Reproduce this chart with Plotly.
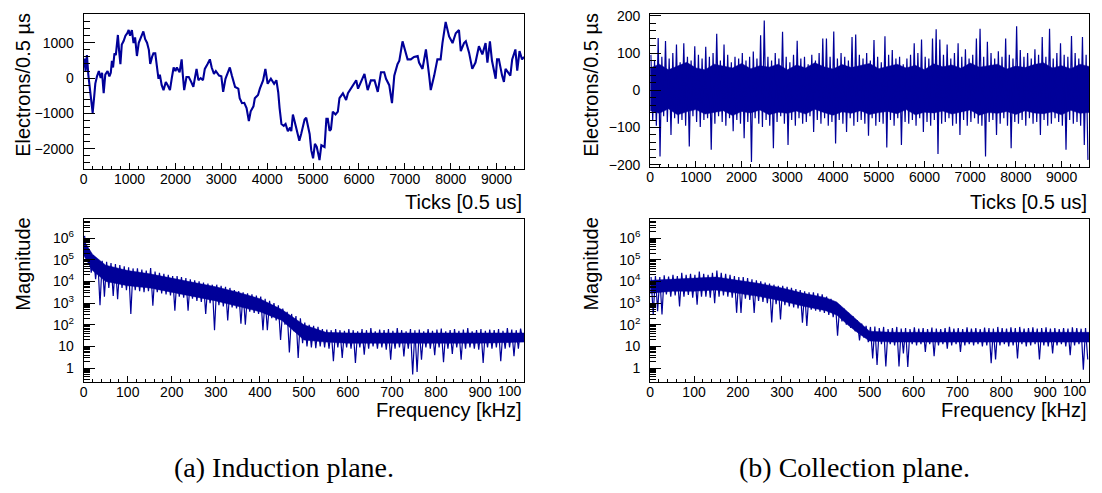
import plotly.graph_objects as go

# ---------------- data ----------------
# (a) induction plane waveform: tick positions and electrons/0.5us
ind_ticks = [0, 20, 40, 70, 100, 150, 195, 230, 253, 290, 330, 370, 400, 435, 470, 520, 560, 590, 615, 640,
             670, 700, 724, 745, 770, 800, 830, 870, 910, 950, 980, 1010, 1050, 1086, 1120, 1160, 1200, 1240, 1300, 1340,
             1380, 1420, 1450, 1490, 1520, 1560, 1590, 1630, 1660, 1700, 1740, 1790, 1830, 1880, 1920, 1960, 2000, 2030, 2090, 2135,
             2160, 2190, 2240, 2290, 2340, 2390, 2430, 2460, 2500, 2550, 2600, 2640, 2700, 2750, 2790, 2840, 2880, 2950, 3000, 3040,
             3090, 3150, 3185, 3230, 3300, 3370, 3400, 3450, 3500, 3550, 3600, 3640, 3700, 3730, 3800, 3840, 3910, 3960, 4010, 4080,
             4150, 4200, 4240, 4270, 4310, 4360, 4400, 4450, 4500, 4525, 4560, 4630, 4700, 4740, 4815, 4850, 4900, 4925, 4960, 5000,
             5040, 5080, 5110, 5140, 5180, 5250, 5290, 5320, 5360, 5390, 5430, 5490, 5540, 5575, 5650, 5720, 5760, 5830, 5880, 5940,
             5980, 6045, 6120, 6190, 6260, 6340, 6410, 6480, 6550, 6590, 6660, 6720, 6770, 6840, 6880, 6950, 6990, 7060, 7130, 7200,
             7280, 7310, 7385, 7460, 7530, 7565, 7640, 7710, 7780, 7820, 7890, 7965, 8040, 8110, 8180, 8220, 8290, 8330, 8400, 8470,
             8540, 8615, 8690, 8760, 8800, 8855, 8900, 8980, 9010, 9050, 9120, 9160, 9195, 9250, 9300, 9340, 9410, 9450, 9500, 9555,
             9600]
ind_vals = [300, 550, 200, 650, 100, -500, -985, -500, -156, 50, 200, 0, 150, -430, 100, 200, 50, 150, 490, 300,
            700, 650, 990, 1220, 800, 395, 950, 1050, 1200, 1270, 1360, 1200, 1360, 990, 1150, 625, 1000, 1150, 1320, 1100,
            1000, 800, 400, 600, 700, 700, 350, -20, 100, -200, -340, -110, -200, -340, 0, 300, 200, 300, 165, 530,
            100, -340, 30, 30, -100, -250, 50, 260, -60, 0, -60, 260, 400, 530, 300, 120, 200, 70, 50, -390,
            -20, 200, 300, 70, -250, -300, -570, -710, -700, -850, -1215, -940, -800, -570, -480, -300, -65, 260, -160, -20,
            -160, -60, -400, -850, -1300, -1350, -1300, -1500, -1400, -1500, -1030, -1400, -1770, -1580, -1170, -1120, -1400, -1580, -2040, -2270,
            -1860, -1950, -2130, -2320, -1900, -1950, -1150, -1150, -1490, -1450, -950, -1030, -950, -570, -430, -620, -430, -300, -200, -60,
            -300, -110, 120, -340, -65, -65, -390, 165, 165, -20, -200, -710, 70, 395, 490, 1040, 855, 530, 530, 600,
            625, 440, 260, 810, 70, -340, 70, 530, 530, 990, 1590, 1180, 990, 1270, 1360, 760, 990, 1040, 720, 260,
            440, 900, 670, 990, 440, 1040, 490, -20, 530, 530, 70, -110, 260, 150, 70, 530, 810, 210, 765, 530,
            600]

# (b) collection plane waveform: per 80-tick bin, highest and lowest sample
coll_bin_width = 80
coll_hi = [95, 80, 140, 90, 132, 85, 100, 123, 75, 126, 90, 80, 118, 95, 85, 117, 90, 100, 152, 80,
           123, 95, 75, 90, 85, 100, 80, 90, 104, 85, 148, 187, 90, 80, 100, 85, 157, 90, 75, 95,
           133, 85, 90, 70, 95, 80, 100, 139, 139, 90, 158, 85, 100, 90, 80, 143, 150, 95, 85, 100,
           80, 135, 90, 75, 145, 95, 108, 85, 90, 70, 85, 95, 126, 100, 136, 90, 85, 139, 164, 136,
           95, 123, 85, 100, 126, 90, 110, 85, 95, 139, 165, 90, 130, 100, 85, 105, 90, 139, 95, 85,
           172, 108, 90, 100, 85, 110, 95, 143, 90, 165, 85, 100, 126, 95, 90, 146, 100, 85, 143, 95]
coll_lo = [-80, -95, -178, -70, -85, -120, -75, -90, -80, -95, -151, -70, -85, -99, -80, -75, -160, -90, -70, -85,
           -95, -75, -110, -80, -90, -129, -85, -193, -75, -90, -99, -80, -95, -156, -85, -70, -90, -147, -80, -95,
           -75, -90, -85, -70, -112, -80, -90, -75, -95, -85, -143, -80, -90, -112, -75, -95, -85, -80, -90, -122,
           -75, -95, -85, -90, -154, -80, -95, -75, -147, -85, -90, -80, -95, -75, -112, -85, -95, -80, -171, -90,
           -85, -75, -95, -90, -120, -80, -95, -85, -75, -90, -95, -178, -85, -80, -120, -90, -75, -95, -156, -85,
           -90, -80, -95, -75, -90, -85, -120, -80, -95, -90, -75, -85, -95, -160, -80, -90, -85, -95, -147, -187]
# dense core of the collection waveform band, every 200 ticks
coll_core_x = list(range(0, 9601, 200))
coll_core_hi = [60, 70, 55, 65, 75, 60, 55, 70, 65, 60, 72, 58, 66, 62, 70, 55, 68, 60, 74, 63, 57, 69, 61, 66, 72,
                58, 64, 70, 60, 67, 55, 71, 63, 68, 59, 73, 62, 66, 70, 57, 65, 61, 69, 74, 60, 66, 58, 70, 64]
coll_core_lo = [-55, -62, -50, -66, -58, -52, -64, -60, -55, -68, -57, -61, -53, -66, -59, -62, -56, -64, -51, -60,
                -67, -58, -62, -55, -65, -60, -57, -63, -52, -66, -59, -61, -56, -64, -58, -53, -67, -60, -62, -57,
                -65, -55, -61, -63, -58, -66, -54, -62, -60]

# spectra: per 10 kHz bin, log10 of highest and lowest magnitude
spec_bin_width = 10
ind_spec_hi = [6.1, 5.4, 5.2, 5.0, 4.95, 4.9, 4.85, 4.8, 4.75, 4.7, 4.65, 4.6, 4.6, 4.55, 4.5, 4.62, 4.45, 4.4, 4.35, 4.3,
               4.25, 4.25, 4.2, 4.15, 4.1, 4.05, 4.0, 3.95, 3.9, 3.85, 3.85, 3.8, 3.75, 3.7, 3.6, 3.55, 3.5, 3.45, 3.4, 3.35,
               3.3, 3.2, 3.1, 3.0, 2.9, 2.75, 2.6, 2.5, 2.4, 2.3, 2.1, 2.0, 1.95, 1.9, 1.8, 1.78, 1.75, 1.8, 1.75, 1.72,
               1.8, 1.75, 1.7, 1.8, 1.75, 1.85, 1.7, 1.78, 1.75, 1.8, 1.72, 1.85, 1.75, 1.7, 1.8, 1.75, 1.78, 1.7, 1.8, 1.72,
               1.78, 1.82, 1.7, 1.75, 1.8, 1.72, 1.78, 1.85, 1.7, 1.75, 1.8, 1.72, 1.78, 1.75, 1.8, 1.72, 1.85, 1.78, 1.75, 1.82]
ind_spec_lo = [5.0, 4.4, 4.1, 2.9, 3.3, 3.7, 3.33, 3.18, 3.7, 3.6, 2.5, 3.6, 3.55, 3.5, 3.55, 2.88, 3.5, 3.45, 3.4, 3.35,
               2.65, 3.3, 3.25, 2.65, 3.2, 3.1, 3.05, 2.5, 3.0, 1.75, 2.9, 2.85, 2.2, 2.8, 2.75, 2.05, 2.0, 2.6, 2.55, 2.5,
               1.75, 1.75, 2.3, 2.2, 1.3, 2.0, 0.72, 1.7, 0.47, 1.15, 1.0, 0.95, 0.92, 1.0, 0.95, 0.9, 0.32, 0.95, 0.47, 0.95,
               0.9, 0.24, 0.95, 0.62, 0.9, 1.0, 0.9, 0.95, 0.85, 0.39, 0.9, 0.95, 0.54, 0.9, -0.29, -0.18, 0.39, 0.95, 0.9, 0.6,
               0.95, 0.27, 0.9, 0.65, 0.95, 0.39, 0.9, 0.95, 0.9, 0.85, 0.24, 0.95, 0.9, 0.95, 0.32, 0.9, 0.95, 0.55, 0.9, 1.3]
coll_spec_hi = [4.2, 4.25, 4.2, 4.28, 4.22, 4.3, 4.25, 4.4, 4.3, 4.35, 4.3, 4.45, 4.35, 4.3, 4.4, 4.5, 4.4, 4.35, 4.3, 4.25,
                4.2, 4.2, 4.15, 4.1, 4.05, 4.0, 3.95, 3.9, 3.85, 3.8, 3.8, 3.75, 3.7, 3.65, 3.6, 3.55, 3.5, 3.5, 3.45, 3.4,
                3.3, 3.2, 3.05, 2.9, 2.75, 2.55, 2.4, 2.2, 2.05, 1.95, 1.9, 1.92, 1.85, 1.9, 1.8, 1.85, 1.9, 1.82, 1.85, 1.8,
                1.88, 1.82, 1.85, 1.8, 1.87, 1.82, 1.8, 1.85, 1.9, 1.82, 1.85, 1.8, 1.88, 1.82, 1.85, 1.8, 1.87, 1.85, 1.82, 1.9,
                1.85, 1.82, 1.88, 1.85, 1.9, 1.82, 1.85, 1.88, 1.82, 1.85, 1.88, 1.82, 1.85, 1.8, 1.85, 1.82, 1.88, 1.85, 1.82, 1.85]
coll_spec_lo = [2.48, 2.63, 2.48, 3.4, 3.3, 3.35, 2.85, 3.3, 3.38, 3.25, 2.93, 3.3, 3.3, 3.25, 3.0, 3.3, 3.35, 3.3, 3.25, 2.55,
                2.55, 3.2, 3.15, 2.55, 3.1, 3.05, 3.0, 2.1, 2.95, 2.25, 2.9, 2.85, 2.8, 2.75, 2.1, 1.95, 2.7, 2.65, 2.6, 2.55,
                2.45, 2.35, 1.5, 2.15, 2.0, 1.85, 1.7, 1.28, 1.4, 1.2, 0.45, 0.15, 1.1, 0.08, 1.1, 1.05, 0.08, 0.68, 0.05, 1.1,
                1.05, 1.1, 0.75, 1.1, 0.55, 1.05, 1.1, 0.9, 1.05, 1.1, 0.75, 1.05, 1.1, 1.05, 1.1, 1.0, 1.05, 0.23, 0.4, 1.05,
                1.1, 1.0, 1.05, 0.45, 1.1, 1.0, 1.05, 1.1, 0.4, 1.05, 1.0, 0.68, 1.05, 1.1, 1.0, 0.6, 1.05, 1.1, -0.08, 0.4]

# dense core of the spectral bands (log10), sampled at these frequencies
ind_core_f = [0, 20, 50, 100, 150, 200, 250, 300, 350, 400, 450, 500, 550, 600, 700, 800, 900, 1000]
ind_core_hi = [5.9, 5.25, 4.75, 4.5, 4.35, 4.15, 3.95, 3.75, 3.5, 3.2, 2.7, 2.0, 1.65, 1.62, 1.62, 1.62, 1.62, 1.62]
ind_core_lo = [5.2, 4.5, 4.0, 3.8, 3.7, 3.5, 3.3, 3.1, 2.85, 2.6, 2.2, 1.3, 1.2, 1.15, 1.15, 1.15, 1.15, 1.2]
coll_core_f = [0, 50, 100, 150, 200, 250, 300, 350, 400, 425, 450, 475, 500, 550, 600, 700, 800, 900, 1000]
coll_core_hi_s = [4.05, 4.1, 4.15, 4.2, 4.05, 3.9, 3.7, 3.45, 3.25, 3.05, 2.6, 2.15, 1.7, 1.65, 1.65, 1.65, 1.65, 1.65, 1.65]
coll_core_lo_s = [3.45, 3.55, 3.55, 3.6, 3.45, 3.3, 3.1, 2.85, 2.65, 2.45, 2.0, 1.6, 1.25, 1.2, 1.2, 1.2, 1.2, 1.2, 1.2]

tick_major = [0, 1000, 2000, 3000, 4000, 5000, 6000, 7000, 8000, 9000]
freq_major = [0, 100, 200, 300, 400, 500, 600, 700, 800, 900]
freq_labels = ["0", "100", "200", "300", "400", "500", "600", "700", "800", "900"]
mag_vals = [1, 10, 100, 1e3, 1e4, 1e5, 1e6]
mag_labels = ["1", "10", "10<sup>2</sup>", "10<sup>3</sup>", "10<sup>4</sup>", "10<sup>5</sup>", "10<sup>6</sup>"]

# ---------------- figure ----------------
W, H = 1102, 493
BLUE = "#000099"
FONT = "Liberation Sans, Arial, Helvetica, sans-serif"


def fx(p):
    return p / W


def fy(p):
    return 1 - p / H


def zigzag(hi, lo, width, log=False):
    xs, ys = [], []
    for i, (h, l) in enumerate(zip(hi, lo)):
        xs += [i * width + 0.2 * width, i * width + 0.7 * width]
        ys += ([10 ** h, 10 ** l] if log else [h, l])
    return xs, ys


def band(fig, xs, hi, lo, xa, ya, log=False):
    tr = (lambda v: [10 ** a for a in v]) if log else (lambda v: v)
    fig.add_trace(go.Scatter(x=xs, y=tr(hi), mode="lines", line=dict(color=BLUE, width=0.5),
                             xaxis=xa, yaxis=ya, showlegend=False))
    fig.add_trace(go.Scatter(x=xs, y=tr(lo), mode="lines", line=dict(color=BLUE, width=0.5),
                             fill="tonexty", fillcolor=BLUE, xaxis=xa, yaxis=ya, showlegend=False))


fig = go.Figure()

# top-left
fig.add_trace(go.Scatter(x=ind_ticks, y=ind_vals, mode="lines", line=dict(color=BLUE, width=2.1),
                         xaxis="x", yaxis="y", showlegend=False))
# top-right
band(fig, coll_core_x, coll_core_hi, coll_core_lo, "x2", "y2")
cx, cy = zigzag(coll_hi, coll_lo, coll_bin_width)
fig.add_trace(go.Scatter(x=cx, y=cy, mode="lines", line=dict(color=BLUE, width=1.2),
                         xaxis="x2", yaxis="y2", showlegend=False))
# bottom-left
band(fig, ind_core_f, ind_core_hi, ind_core_lo, "x3", "y3", log=True)
sx, sy = zigzag(ind_spec_hi, ind_spec_lo, spec_bin_width, log=True)
fig.add_trace(go.Scatter(x=sx, y=sy, mode="lines", line=dict(color=BLUE, width=1.2),
                         xaxis="x3", yaxis="y3", showlegend=False))
# bottom-right
band(fig, coll_core_f, coll_core_hi_s, coll_core_lo_s, "x4", "y4", log=True)
sx, sy = zigzag(coll_spec_hi, coll_spec_lo, spec_bin_width, log=True)
fig.add_trace(go.Scatter(x=sx, y=sy, mode="lines", line=dict(color=BLUE, width=1.2),
                         xaxis="x4", yaxis="y4", showlegend=False))

base = dict(showline=True, mirror=True, linecolor="black", linewidth=1, ticks="inside", tickcolor="black",
            tickwidth=1, showgrid=False, zeroline=False, tickfont=dict(family=FONT, size=14, color="black"))

LX = [fx(80), fx(522)]
RX = [fx(648.5), fx(1089)]


def xax(domain, anchor, rng, vals, texts, minor_step):
    d = dict(base)
    d.update(domain=domain, anchor=anchor, range=rng, tickmode="array", tickvals=vals, ticktext=texts,
             ticklen=6, ticklabelstandoff=-3,
             minor=dict(ticks="inside", ticklen=3, tick0=0, dtick=minor_step, tickcolor="black"))
    return d


def yax(domain, anchor, rng, vals, texts, minor_step, log=False):
    d = dict(base)
    d.update(domain=domain, anchor=anchor, range=rng, tickmode="array", tickvals=vals, ticktext=texts,
             ticklen=11, ticklabelstandoff=6,
             minor=dict(ticks="inside", ticklen=6, tick0=0, dtick=minor_step, tickcolor="black"))
    if log:
        d["type"] = "log"
    return d


tick_text = [str(v) for v in tick_major]
fig.update_layout(
    xaxis=xax(LX, "y", [0, 9600], tick_major, tick_text, 200),
    yaxis=yax([fy(167), fy(8.3)], "x", [-2580, 1810], [-2000, -1000, 0, 1000],
              ["\u22122000", "\u22121000", "0", "1000"], 200),
    xaxis2=xax(RX, "y2", [0, 9600], tick_major, tick_text, 200),
    yaxis2=yax([fy(165), fy(8.3)], "x2", [-207, 204.5], [-200, -100, 0, 100, 200],
               ["\u2212200", "\u2212100", "0", "100", "200"], 20),
    xaxis3=xax(LX, "y3", [0, 1000], freq_major, freq_labels, 20),
    yaxis3=yax([fy(385), fy(218.3)], "x3", [-0.66, 6.86], mag_vals, mag_labels, "D1", log=True),
    xaxis4=xax(RX, "y4", [0, 1000], freq_major, freq_labels, 20),
    yaxis4=yax([fy(385), fy(218.3)], "x4", [-0.66, 6.86], mag_vals, mag_labels, "D1", log=True),
)

ann = []
tfont = dict(family=FONT, size=20, color="black")
for xr in (522, 1089):
    ann.append(dict(text="Ticks [0.5 us]", x=fx(xr), y=fy(200), xanchor="right", yanchor="middle", font=tfont))
    ann.append(dict(text="Frequency [kHz]", x=fx(xr), y=fy(413), xanchor="right", yanchor="middle", font=tfont))
    ann.append(dict(text="100", x=fx(xr), y=fy(384), xanchor="right", yanchor="top",
                    font=dict(family=FONT, size=14, color="black")))
for xc in (19, 589):
    ann.append(dict(text="Electrons/0.5 \u00b5s", x=fx(xc), y=fy(5), xanchor="center", yanchor="top",
                    textangle=-90, font=tfont))
    ann.append(dict(text="Magnitude", x=fx(xc), y=fy(214), xanchor="center", yanchor="top",
                    textangle=-90, font=tfont))
cfont = dict(family="Liberation Serif, Times New Roman, serif", size=28, color="black")
ann.append(dict(text="(a) Induction plane.", x=fx(281), y=fy(472), xanchor="center", yanchor="middle", font=cfont))
ann.append(dict(text="(b) Collection plane.", x=fx(854), y=fy(472), xanchor="center", yanchor="middle", font=cfont))
for a in ann:
    a.update(xref="paper", yref="paper", showarrow=False)

fig.update_layout(width=W, height=H, margin=dict(l=0, r=0, t=0, b=0), paper_bgcolor="white",
                  plot_bgcolor="white", annotations=ann, font=dict(family=FONT))

fig.write_html("out.html", config={"displayModeBar": False},
               post_script="document.body.style.margin='0px';")
